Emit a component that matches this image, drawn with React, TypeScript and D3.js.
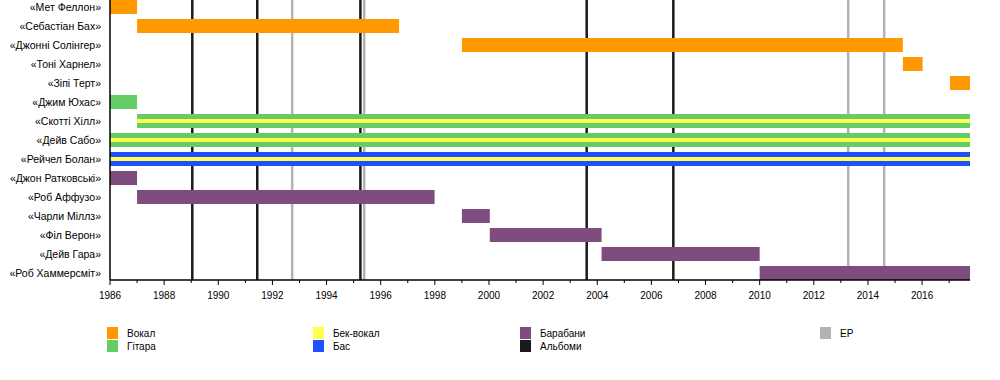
import React from "react";
import * as d3 from "d3";

const members = [
  "«Мет Феллон»",
  "«Себастіан Бах»",
  "«Джонні Солінгер»",
  "«Тоні Харнел»",
  "«Зіпі Терт»",
  "«Джим Юхас»",
  "«Скотті Хілл»",
  "«Дейв Сабо»",
  "«Рейчел Болан»",
  "«Джон Ратковськi»",
  "«Роб Аффузо»",
  "«Чарли Міллз»",
  "«Філ Верон»",
  "«Дейв Гара»",
  "«Роб Хаммерсміт»",
];

const END = 2017.77;

// main bars: member, start, end, role
const barMember = [
  "«Мет Феллон»", "«Себастіан Бах»", "«Джонні Солінгер»", "«Тоні Харнел»", "«Зіпі Терт»",
  "«Джим Юхас»", "«Скотті Хілл»", "«Дейв Сабо»", "«Рейчел Болан»",
  "«Джон Ратковськi»", "«Роб Аффузо»", "«Чарли Міллз»", "«Філ Верон»", "«Дейв Гара»", "«Роб Хаммерсміт»",
];
const barStart = [1986, 1987, 1999.0, 2015.29, 2017.03, 1986, 1987, 1986, 1986, 1986, 1987, 1999.0, 2000.03, 2004.16, 2010.0];
const barEnd = [1987, 1996.68, 2015.29, 2016.02, END, 1987, END, END, END, 1987, 1997.99, 2000.03, 2004.16, 2010.0, END];
const barRole = ["vocal", "vocal", "vocal", "vocal", "vocal", "guitar", "guitar", "guitar", "bass", "drums", "drums", "drums", "drums", "drums", "drums"];

// back-vocal stripes
const stripeMember = ["«Скотті Хілл»", "«Дейв Сабо»", "«Рейчел Болан»"];
const stripeStart = [1987, 1986, 1986];
const stripeEnd = [END, END, END];

const albums = [1989.04, 1991.44, 1995.25, 2003.61, 2006.81];
const eps = [1992.73, 1995.39, 2013.27, 2014.6];

const legendLabels = ["Вокал", "Гітара", "Бек-вокал", "Бас", "Барабани", "Альбоми", "EP"];
const legendKeys = ["vocal", "guitar", "backing", "bass", "drums", "album", "ep"];

const colors: Record<string, string> = {
  vocal: "#ff9900",
  guitar: "#66cc66",
  backing: "#ffff4d",
  bass: "#1f4fff",
  drums: "#7f4c7f",
  album: "#1a1a1a",
  ep: "#b3b3b3",
};

const FONT = "Liberation Sans, Arial, sans-serif";

export default function App() {
  const left = 110;
  const right = 970;
  const axisY = 280;
  const x = d3.scaleLinear().domain([1986, END]).range([left, right]);
  const y = d3.scalePoint<string>().domain(members).range([7, 273]);
  const barH = 14;
  const stripeH = 4;

  const majorTicks = d3.range(1986, 2017, 2);
  const minorTicks = d3.range(1987, 2018, 2);

  const legendPos = [
    [107, 327], [107, 340], [313, 327], [313, 340], [520, 327], [520, 340], [820, 327],
  ];

  return (
    <svg width={1000} height={380} style={{ position: "absolute", left: 0, top: 0, background: "#fff" }} fontFamily={FONT}>
      {/* vertical lines */}
      {eps.map((d, i) => (
        <line key={"ep" + i} x1={x(d)} x2={x(d)} y1={0} y2={axisY} stroke={colors.ep} strokeWidth={2.5} />
      ))}
      {albums.map((d, i) => (
        <line key={"al" + i} x1={x(d)} x2={x(d)} y1={0} y2={axisY} stroke={colors.album} strokeWidth={2.5} />
      ))}
      {/* bars */}
      {barMember.map((m, i) => (
        <rect
          key={"b" + i}
          x={x(barStart[i])}
          width={x(barEnd[i]) - x(barStart[i])}
          y={(y(m) as number) - barH / 2}
          height={barH}
          fill={colors[barRole[i]]}
        />
      ))}
      {stripeMember.map((m, i) => (
        <rect
          key={"s" + i}
          x={x(stripeStart[i])}
          width={x(stripeEnd[i]) - x(stripeStart[i])}
          y={(y(m) as number) - stripeH / 2}
          height={stripeH}
          fill={colors.backing}
        />
      ))}
      {/* axes */}
      <line x1={left} x2={left} y1={0} y2={axisY} stroke="#000" strokeWidth={1.5} />
      <line x1={left} x2={right} y1={axisY} y2={axisY} stroke="#000" strokeWidth={1.5} />
      {majorTicks.map((t) => (
        <g key={"mt" + t}>
          <line x1={x(t)} x2={x(t)} y1={axisY} y2={axisY + 5} stroke="#000" strokeWidth={1} />
          <text x={x(t)} y={axisY + 19} textAnchor="middle" fontSize={10} fill="#000">
            {t}
          </text>
        </g>
      ))}
      {minorTicks.map((t) => (
        <line key={"nt" + t} x1={x(t)} x2={x(t)} y1={axisY} y2={axisY + 3} stroke="#000" strokeWidth={1} />
      ))}
      {/* labels */}
      {members.map((m) => (
        <text key={m} x={101} y={(y(m) as number) + 4} textAnchor="end" fontSize={10.5} fill="#000">
          {m}
        </text>
      ))}
      {/* legend */}
      {legendKeys.map((k, i) => (
        <g key={"lg" + k}>
          <rect x={legendPos[i][0]} y={legendPos[i][1]} width={11} height={12} fill={colors[k]} />
          <text x={legendPos[i][0] + 20} y={legendPos[i][1] + 10} fontSize={10} fill="#000">
            {legendLabels[i]}
          </text>
        </g>
      ))}
    </svg>
  );
}
